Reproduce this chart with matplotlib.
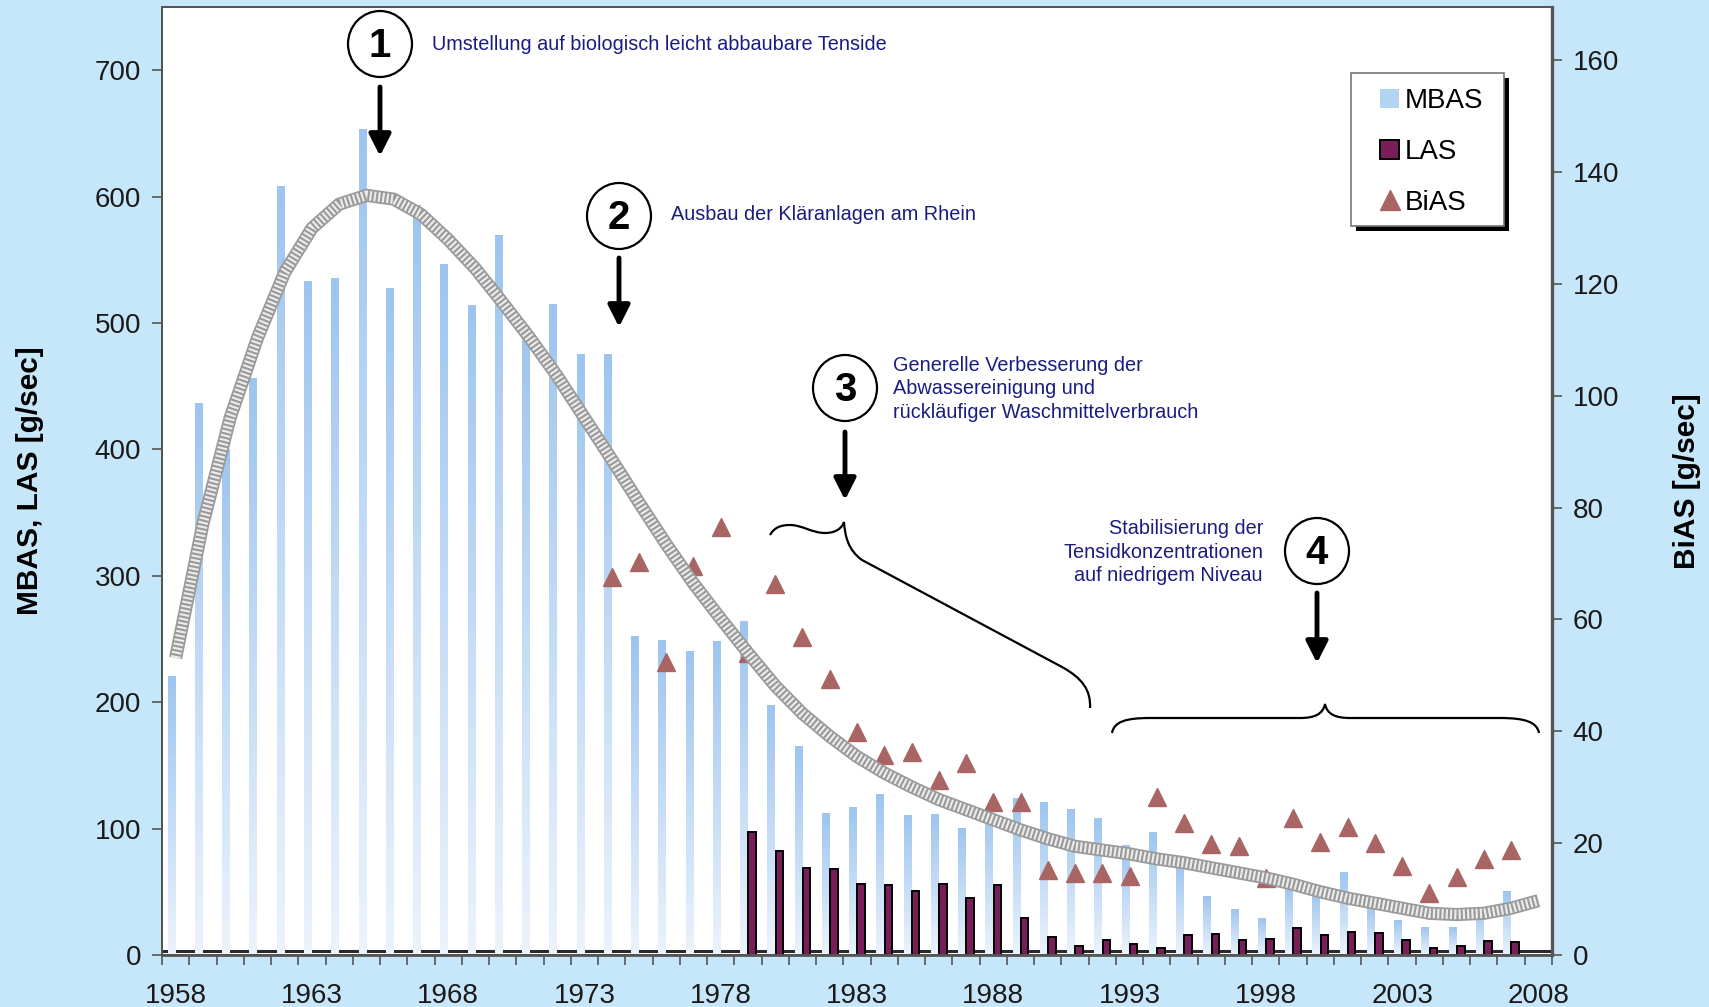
import numpy as np
import matplotlib
matplotlib.use("Agg")
import matplotlib.pyplot as plt
from matplotlib.patches import Ellipse, PathPatch, Patch, FancyArrowPatch, Rectangle
from matplotlib.path import Path
from matplotlib.lines import Line2D
from matplotlib.colors import LinearSegmentedColormap

plt.rcParams['font.family'] = ['Liberation Sans', 'DejaVu Sans']

# ---- data ----
mbas_years = list(range(1958, 2008))
mbas = [220, 436, 400, 456, 608, 533, 535, 653, 527, 593,
        546, 514, 569, 497, 515, 475, 475, 252, 249, 240,
        248, 264, 197, 165, 112, 117, 127, 110, 111, 100,
        116, 124, 121, 115, 108, 87, 97, 72, 46, 36,
        29, 55, 49, 65, 38, 27, 22, 22, 36, 50]

las_years = list(range(1979, 2008))
las = [97, 82, 69, 68, 56, 55, 51, 56, 45, 55,
       29, 14, 7.5, 12, 8.5, 5.8, 16, 17, 12, 12.5,
       21.6, 16, 18.5, 17.7, 12, 5.3, 7, 11, 10.5]

bias_years = list(range(1974, 2008))
bias = [67.6, 70.2, 52.4, 69.5, 76.6, 54, 66.3, 56.9, 49.3, 39.8,
        35.8, 36.3, 31.3, 34.3, 27.3, 27.3, 15.2, 14.7, 14.7, 14.1,
        28.2, 23.6, 19.8, 19.5, 13.8, 24.5, 20.2, 22.9, 20.1, 15.9,
        11.0, 13.9, 17.2, 18.8]

trend_years = list(range(1958, 2009))
trend = [235, 341, 425, 488, 540, 575, 594, 601, 598, 586,
         566, 543, 516, 488, 458, 425, 392, 358, 325, 294,
         266, 239, 213, 191, 173, 157, 144, 133, 123, 115,
         107, 99, 92, 86, 83, 80, 76, 73, 69, 65,
         61, 56, 50, 45, 41, 37, 33, 32, 33, 37, 43]

year_labels = list(range(1958, 2009, 5))

notes = {
    1: "Umstellung auf biologisch leicht abbaubare Tenside",
    2: "Ausbau der Kläranlagen am Rhein",
    3: "Generelle Verbesserung der\nAbwassereinigung und\nrückläufiger Waschmittelverbrauch",
    4: "Stabilisierung der\nTensidkonzentrationen\nauf niedrigem Niveau",
}

W, H = 1709, 1007
bg = '#c6e6f9'
las_col = '#7a1e5b'
bias_col = '#a86563'
navy = '#1c1c80'

fig = plt.figure(figsize=(W / 100, H / 100), dpi=100, facecolor=bg)
ax = fig.add_axes([162 / W, 1 - 955 / H, 1390 / W, 948 / H])
ax.set_facecolor('white')
ax2 = ax.twinx()

def fpx(x, y):
    return (x / W, 1 - y / H)

# dark base line, hidden behind the pale bar bottoms
ax.axhline(2.8, color='#2a2a2a', lw=2.2, zorder=1)

# MBAS bars with vertical gradient
bw = 0.28
mb = ax.bar(np.array(mbas_years) - 0.15, mbas, width=bw, color='none', zorder=2)
grad_cmap = LinearSegmentedColormap.from_list('g', ['#ebf3fc', '#9ec5ef'])
grad = np.linspace(0, 1, 100).reshape(-1, 1)
for r in mb:
    ax.imshow(grad, extent=[r.get_x(), r.get_x() + r.get_width(), 0, r.get_height()],
              origin='lower', aspect='auto', cmap=grad_cmap, zorder=2)

# LAS bars
ax.bar(np.array(las_years) + 0.15, las, width=bw, color=las_col,
       edgecolor='black', linewidth=1.4, zorder=3)

# BiAS triangles
ax2.plot(bias_years, bias, ls='none', marker='^', ms=13.5, color=bias_col, zorder=3)

# stippled trend band (left-axis units)
ax2.plot(trend_years, trend, color='#9a9a9a', lw=9.5, solid_capstyle='butt',
         solid_joinstyle='round', transform=ax.transData, zorder=4)
ax2.plot(trend_years, trend, color='#ececec', lw=7, ls=(0, (0.22, 0.22)),
         dash_joinstyle='round', transform=ax.transData, zorder=5)

ax.set_xlim(1957.5, 2008.5)
ax.set_ylim(0, 750)
ax2.set_ylim(0, 169.5)

ax.set_xticks(year_labels)
ax.set_xticklabels([str(y) for y in year_labels])
ax.set_xticks(np.arange(1957.5, 2009, 1), minor=True)
ax.tick_params(axis='x', which='major', length=0, labelsize=20, pad=20, colors='#1a1a1a')
ax.tick_params(axis='x', which='minor', length=7, width=1.2, color='#555555')
ax.set_yticks(range(0, 701, 100))
ax.tick_params(axis='y', length=7, width=1.2, labelsize=20, pad=8, color='#555555',
               labelcolor='#1a1a1a')
ax2.set_yticks(range(0, 161, 20))
ax2.tick_params(axis='y', length=7, width=1.2, labelsize=20, pad=8, color='#555555',
                labelcolor='#1a1a1a')

for a in (ax, ax2):
    for s in a.spines.values():
        s.set_color('#555555')
        s.set_linewidth(1.4)
ax2.spines['right'].set_linewidth(2.4)
ax.spines['bottom'].set_linewidth(2.0)

ax.set_ylabel('MBAS, LAS [g/sec]', fontsize=21.5, fontweight='bold')
ax.yaxis.set_label_coords(-0.085, 0.5)
ax2.set_ylabel('BiAS [g/sec]', fontsize=21.5, fontweight='bold', rotation=90)
ax2.yaxis.set_label_coords(1.087, 0.5)

# legend: frame and shadow drawn by hand, entries from the legend itself
x0, y0, x1, y1 = 1351, 73, 1504, 226
fig.add_artist(Rectangle(fpx(x0 + 5, y1 + 5), (x1 - x0) / W, (y1 - y0) / H,
                         transform=fig.transFigure, facecolor='black',
                         edgecolor='none', zorder=8))
fig.add_artist(Rectangle(fpx(x0, y1), (x1 - x0) / W, (y1 - y0) / H,
                         transform=fig.transFigure, facecolor='white',
                         edgecolor='#777777', lw=1.2, zorder=9))
handles = [Patch(facecolor='#b3d3f3', edgecolor='none'),
           Patch(facecolor=las_col, edgecolor='black', linewidth=1.4),
           Line2D([], [], ls='none', marker='^', ms=14, color=bias_col)]
leg = fig.legend(handles, ['MBAS', 'LAS', 'BiAS'], loc='upper left',
                 bbox_to_anchor=fpx(1380, 88), bbox_transform=fig.transFigure,
                 fontsize=20, frameon=False, handlelength=0.7,
                 handleheight=0.7, handletextpad=0.2, labelspacing=0.9,
                 borderpad=0, borderaxespad=0)
leg.set_zorder(10)

# numbered markers, arrows and notes
circles = {1: (380, 44), 2: (619, 216), 3: (845, 388), 4: (1317, 551)}
arrows = {1: (87, 156), 2: (258, 327), 3: (432, 500), 4: (593, 663)}
for k, (cx, cy) in circles.items():
    c = Ellipse(fpx(cx, cy), 64 / W, 66 / H, transform=fig.transFigure,
                facecolor='white', edgecolor='black', lw=1.6, zorder=20)
    fig.add_artist(c)
    fig.text(*fpx(cx, cy + 2), str(k), ha='center', va='center', fontsize=29,
             fontweight='bold', zorder=21)
    ya, yb = arrows[k]
    ar = FancyArrowPatch(fpx(cx, ya), fpx(cx, yb), transform=fig.transFigure,
                         arrowstyle='-|>,head_width=0.33,head_length=0.65',
                         mutation_scale=20, lw=3.5, color='black',
                         shrinkA=0, shrinkB=0, zorder=20)
    fig.add_artist(ar)

fig.text(*fpx(432, 45), notes[1], ha='left', va='center', fontsize=14.3, color=navy)
fig.text(*fpx(671, 215), notes[2], ha='left', va='center', fontsize=14.3, color=navy)
fig.text(*fpx(893, 389), notes[3], ha='left', va='center', fontsize=14.3, color=navy,
         linespacing=1.32)
fig.text(*fpx(1263, 552), notes[4], ha='right', va='center', fontsize=14.3, color=navy,
         linespacing=1.32)

# curly braces
M, C, L = Path.MOVETO, Path.CURVE4, Path.LINETO
b3 = [(770, 535),
      (774, 528), (780, 525), (790, 525),
      (802, 525), (812, 533), (825, 533),
      (836, 533), (842, 528), (844, 522),
      (845, 536), (848, 550), (862, 560),
      (1062, 667),
      (1082, 678), (1091, 690), (1090, 708)]
c3 = [M, C, C, C, C, C, C, C, C, C, C, C, C, L, C, C, C]
b4 = [(1112, 733),
      (1114, 722), (1125, 718), (1150, 718),
      (1300, 718),
      (1315, 718), (1323, 714), (1325, 704),
      (1327, 714), (1335, 718), (1350, 718),
      (1500, 718),
      (1525, 718), (1537, 722), (1539, 733)]
c4 = [M, C, C, C, L, C, C, C, C, C, C, L, C, C, C]
for pts, codes in ((b3, c3), (b4, c4)):
    p = Path([fpx(x, y) for x, y in pts], codes)
    fig.add_artist(PathPatch(p, transform=fig.transFigure, fill=False,
                             lw=1.6, edgecolor='black', zorder=20))

fig.savefig('out.png', dpi=100, facecolor=bg)
